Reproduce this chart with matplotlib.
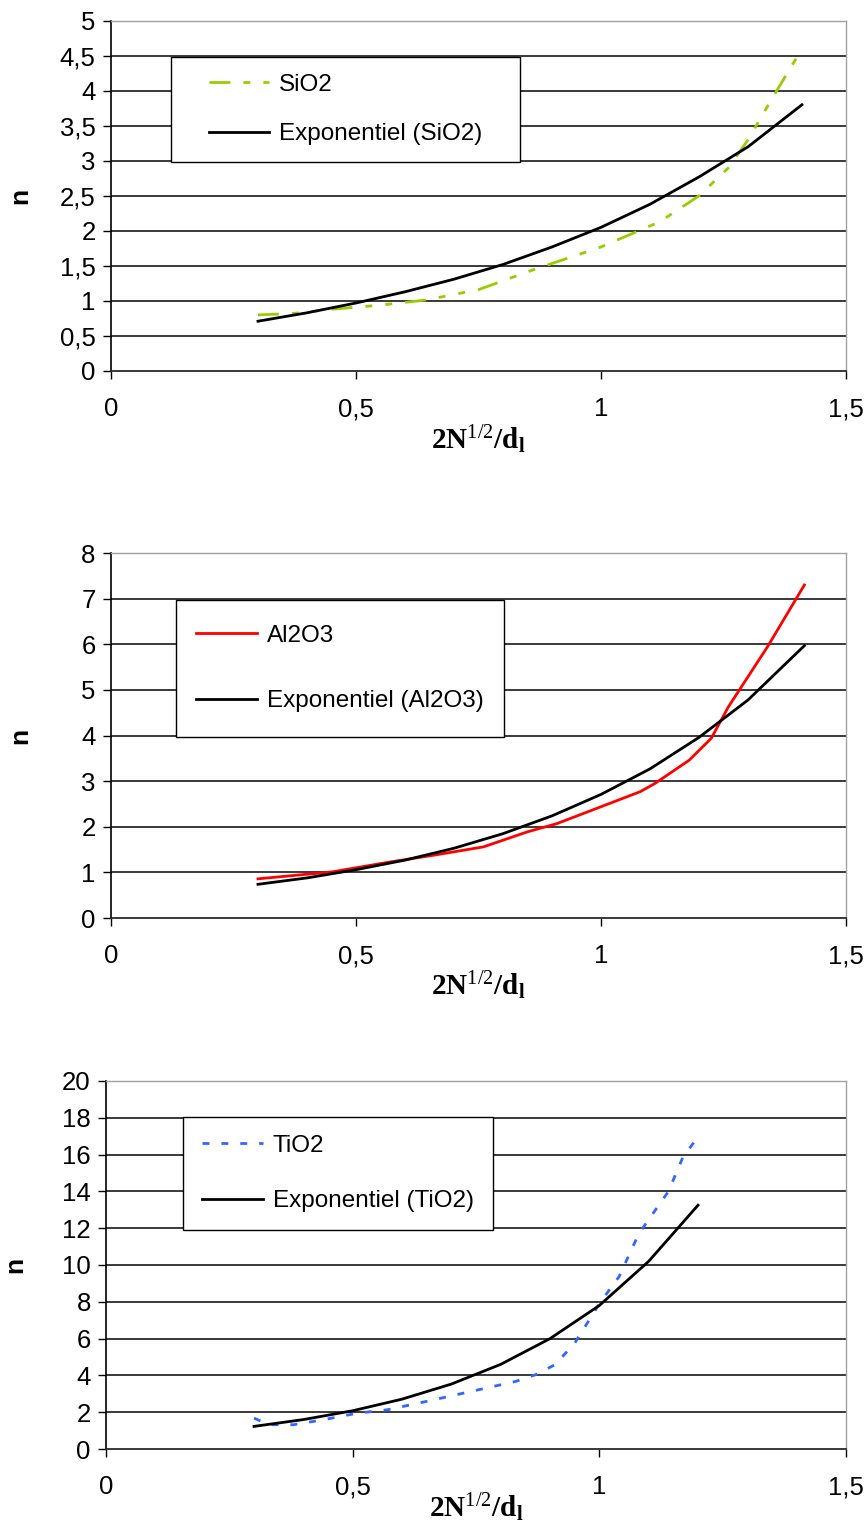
import matplotlib
matplotlib.use("Agg")
import matplotlib.pyplot as plt
from matplotlib.patches import Rectangle

# SiO2
sio2_x = [0.30, 0.37, 0.45, 0.50, 0.55, 0.64, 0.75, 0.86, 1.00, 1.12, 1.20, 1.26, 1.30, 1.35, 1.41]
sio2_n = [0.80, 0.82, 0.88, 0.91, 0.94, 1.01, 1.16, 1.44, 1.77, 2.13, 2.50, 2.90, 3.30, 3.90, 4.60]
sio2_fit_x = [0.30, 0.40, 0.50, 0.60, 0.70, 0.80, 0.90, 1.00, 1.10, 1.20, 1.30, 1.41]
sio2_fit_n = [0.71, 0.83, 0.97, 1.13, 1.31, 1.52, 1.77, 2.05, 2.38, 2.77, 3.20, 3.80]

# Al2O3
al2o3_x = [0.30, 0.45, 0.57, 0.66, 0.76, 0.85, 0.91, 1.00, 1.08, 1.11, 1.18, 1.225, 1.26, 1.34, 1.415]
al2o3_n = [0.86, 1.01, 1.23, 1.38, 1.56, 1.89, 2.07, 2.44, 2.77, 2.95, 3.46, 3.94, 4.63, 5.95, 7.30]
al2o3_fit_x = [0.30, 0.40, 0.50, 0.60, 0.70, 0.80, 0.90, 1.00, 1.10, 1.20, 1.30, 1.415]
al2o3_fit_n = [0.74, 0.88, 1.06, 1.27, 1.53, 1.85, 2.24, 2.71, 3.27, 3.96, 4.78, 5.97]

# TiO2
tio2_x = [0.30, 0.33, 0.38, 0.44, 0.51, 0.57, 0.65, 0.74, 0.83, 0.87, 0.91, 0.95, 1.00, 1.04, 1.08, 1.14, 1.17, 1.20]
tio2_n = [1.68, 1.32, 1.32, 1.59, 1.95, 2.13, 2.59, 3.13, 3.67, 4.03, 4.58, 5.75, 7.90, 9.37, 11.7, 14.0, 15.9, 16.95]
tio2_fit_x = [0.30, 0.40, 0.50, 0.60, 0.70, 0.80, 0.90, 1.00, 1.10, 1.20]
tio2_fit_n = [1.23, 1.60, 2.08, 2.71, 3.53, 4.60, 6.00, 7.80, 10.2, 13.25]

x_ticks = [0, 0.5, 1, 1.5]
x_ticklabels = ["0", "0,5", "1", "1,5"]

plt.rcParams['font.family'] = ['Liberation Sans', 'DejaVu Sans']
plt.rcParams['mathtext.fontset'] = 'custom'
plt.rcParams['mathtext.rm'] = 'Liberation Serif'
plt.rcParams['mathtext.bf'] = 'Liberation Serif:bold'
plt.rcParams['mathtext.it'] = 'Liberation Serif:italic'

fig = plt.figure(figsize=(8.67, 15.24), dpi=100)

panels = [
    dict(rect=[0.128, 0.7566, 0.8478, 0.2298], x=sio2_x, n=sio2_n, fx=sio2_fit_x, fn=sio2_fit_n,
         color='#99cc00', ls=(0, (7.5, 4.7, 2.5, 4.7, 2.5, 4.7)), label='SiO2',
         ylim=5, yticks=[0, 0.5, 1, 1.5, 2, 2.5, 3, 3.5, 4, 4.5, 5],
         box=(0.0816, 0.597, 0.475, 0.299), spacing=1.15, xlab_y=-0.15),
    dict(rect=[0.128, 0.3976, 0.8478, 0.2395], x=al2o3_x, n=al2o3_n, fx=al2o3_fit_x, fn=al2o3_fit_n,
         color='#ff0000', ls='-', label='Al2O3',
         ylim=8, yticks=list(range(0, 9)),
         box=(0.088, 0.496, 0.447, 0.375), spacing=1.8, xlab_y=-0.14),
    dict(rect=[0.1223, 0.0492, 0.8535, 0.2415], x=tio2_x, n=tio2_n, fx=tio2_fit_x, fn=tio2_fit_n,
         color='#3366ff', ls=(0, (2.5, 4.3)), label='TiO2',
         ylim=20, yticks=list(range(0, 21, 2)),
         box=(0.104, 0.595, 0.419, 0.307), spacing=1.38, xlab_y=-0.115),
]

for p in panels:
    ax = fig.add_axes(p['rect'])
    ax.set_xlim(0, 1.5)
    ax.set_ylim(0, p['ylim'])

    for yv in p['yticks'][1:-1]:
        ax.axhline(yv, color='#2a2a2a', lw=1.3, zorder=1)

    ax.plot(p['x'], p['n'], color=p['color'], lw=2.0, linestyle=p['ls'],
            label=p['label'], zorder=3)
    ax.plot(p['fx'], p['fn'], color='black', lw=2.0,
            label='Exponentiel (%s)' % p['label'], zorder=4)

    bx, by, bw, bh = p['box']
    ax.add_patch(Rectangle((bx, by), bw, bh, transform=ax.transAxes,
                           facecolor='white', edgecolor='black', lw=1.0, zorder=5))
    leg = ax.legend(loc='center', bbox_to_anchor=(bx + bw / 2, by + bh / 2),
                    frameon=False, fontsize=17.5, handlelength=2.5,
                    handletextpad=0.4, labelspacing=p['spacing'], borderpad=0)
    leg.set_zorder(6)

    ax.set_xticks(x_ticks)
    ax.set_xticklabels(x_ticklabels)
    ax.set_yticks(p['yticks'])
    ax.set_yticklabels([('%g' % v).replace('.', ',') for v in p['yticks']])
    ax.tick_params(axis='x', length=6, width=1, pad=13, labelsize=18.5, direction='out')
    ax.tick_params(axis='y', length=6, width=1, pad=5, labelsize=18.5, direction='out')

    for side in ['top', 'right']:
        ax.spines[side].set_color('#a0a0a0')
        ax.spines[side].set_linewidth(1.0)
    ax.spines['left'].set_color('black')
    ax.spines['bottom'].set_color('#2a2a2a')
    ax.spines['left'].set_linewidth(1.2)
    ax.spines['bottom'].set_linewidth(1.3)

    ax.set_xlabel(r'$\mathbf{2N}^{1/2}\mathbf{/d}_{\mathbf{l}}$', fontsize=21)
    ax.xaxis.set_label_coords(0.5, p['xlab_y'])
    ax.set_ylabel('n', fontsize=19, fontweight='bold')
    ax.yaxis.set_label_coords(-0.107, 0.5)

fig.savefig('out.png', dpi=100)
